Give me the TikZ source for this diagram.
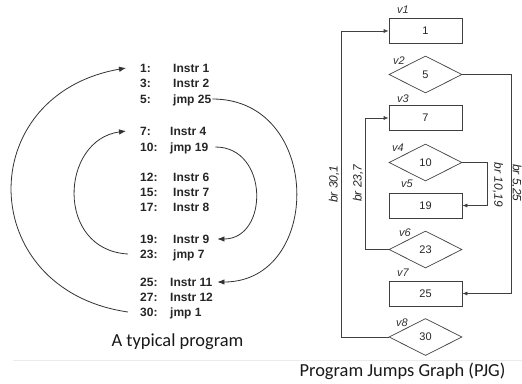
\documentclass[tikz,border=0pt]{standalone}
\usepackage{fontspec}
\setmainfont{Liberation Sans}
\newfontfamily\capfont{Carlito}
\usetikzlibrary{shapes.geometric,arrows.meta}
\begin{document}
\begin{tikzpicture}[x=1pt,y=-1pt,
  code/.style={font=\fontsize{12}{14}\selectfont\bfseries, text=black!85, inner sep=0pt, anchor=west, text height=8.6pt, text depth=0pt},
  curve/.style={draw=black!80, line width=0.8pt, -{Latex[length=7pt,width=5.5pt]}},
  blk/.style={draw=black!75, line width=0.7pt, minimum width=73pt, minimum height=25pt, inner sep=0pt, font=\fontsize{11}{13}\selectfont, text=black!85},
  dia/.style={diamond, draw=black!75, line width=0.7pt, minimum width=73pt, minimum height=37pt, inner sep=0pt, font=\fontsize{11}{13}\selectfont, text=black!85},
  vlab/.style={font=\fontsize{11}{13}\selectfont\itshape, text=black!80, inner sep=0pt},
  edge/.style={draw=black!75, line width=0.7pt, -{Latex[length=5pt,width=4pt]}},
  brlab/.style={font=\fontsize{12}{14}\selectfont\itshape, text=black!85, inner sep=0pt},
  captxt/.style={font=\capfont\fontsize{18.4}{22}\selectfont, text=black!90, inner sep=0pt}
]
\useasboundingbox (0,0) rectangle (522,383);
\fill[white] (0,0) rectangle (522,383);

% program listing
\node[code] (n1)  at (140,68)  {1:};   \node[code] (i1)  at (173,68)  {Instr 1};
\node[code] (n3)  at (140,83)  {3:};   \node[code] (i3)  at (173,83)  {Instr 2};
\node[code] (n5)  at (140,99)  {5:};   \node[code] (i5)  at (173,99)  {jmp 25};
\node[code] (n7)  at (140,131) {7:};   \node[code] (i7)  at (170,131) {Instr 4};
\node[code] (n10) at (140,147) {10:};  \node[code] (i10) at (170,147) {jmp 19};
\node[code] (n12) at (140,177) {12:};  \node[code] (i12) at (173,177) {Instr 6};
\node[code] (n15) at (140,192) {15:};  \node[code] (i15) at (173,192) {Instr 7};
\node[code] (n17) at (140,207) {17:};  \node[code] (i17) at (173,207) {Instr 8};
\node[code] (n19) at (140,239) {19:};  \node[code] (i19) at (173,239) {Instr 9};
\node[code] (n23) at (140,254) {23:};  \node[code] (i23) at (173,254) {jmp 7};
\node[code] (n25) at (140,282) {25:};  \node[code] (i25) at (170,282) {Instr 11};
\node[code] (n27) at (140,297) {27:};  \node[code] (i27) at (170,297) {Instr 12};
\node[code] (n30) at (140,312) {30:};  \node[code] (i30) at (170,312) {jmp 1};

% jump arcs
\draw[curve] ([xshift=-12pt]n30.west) .. controls (-25,290) and (-28,95) .. ([xshift=-14pt]n1.west);
\draw[curve] ([xshift=-12pt]n23.west) .. controls (55,250) and (60,140) .. ([xshift=-14pt]n7.west);
\draw[curve] ([xshift=7pt]i10.east) .. controls (269,147) and (269,239) .. ([xshift=8pt]i19.east);
\draw[curve] ([xshift=1pt]i5.east) .. controls (323,99) and (323,282) .. ([xshift=5pt]i25.east);

% PJG nodes
\node[blk] (v1) at (425.5,31)    {1};
\node[dia] (v2) at (425.5,74.5)  {5};
\node[blk] (v3) at (425.5,118)   {7};
\node[dia] (v4) at (425.5,162.5) {10};
\node[blk] (v5) at (425.5,205.5) {19};
\node[dia] (v6) at (425.5,249.5) {23};
\node[blk] (v7) at (425.5,293.5) {25};
\node[dia] (v8) at (425.5,337)   {30};

\node[vlab] (l1) at (403,10)  {v1};
\node[vlab] (l2) at (399,61)  {v2};
\node[vlab] (l3) at (403,99)  {v3};
\node[vlab] (l4) at (398,148) {v4};
\node[vlab] (l5) at (407,184) {v5};
\node[vlab] (l6) at (405,233) {v6};
\node[vlab] (l7) at (403,273) {v7};
\node[vlab] (l8) at (402,323) {v8};

% PJG edges
\draw[edge] (v8.west) -- ++(-47,0) |- (v1.west);
\draw[edge] (v6.west) -- ++(-23,0) |- (v3.west);
\draw[edge] (v4.east) -- ++(24.5,0) |- (v5.east);
\draw[edge] (v2.east) -- ++(48.5,0) |- (v7.east);

\node[brlab, rotate=90]  (b1) at (334,184) {br 30,1};
\node[brlab, rotate=90]  (b2) at (358,183) {br 23,7};
\node[brlab, rotate=-90] (b3) at (498,185) {br 10,19};
\node[brlab, rotate=-90] (b4) at (516.5,183) {br 5,25};

% captions
\node[captxt] (c1) at (177.5,342) {A typical program};
\node[captxt] (c2) at (402.5,371) {Program Jumps Graph (PJG)};
\draw[black!8, line width=0.8pt] (13,360) -- (522,360);
\end{tikzpicture}
\end{document}
